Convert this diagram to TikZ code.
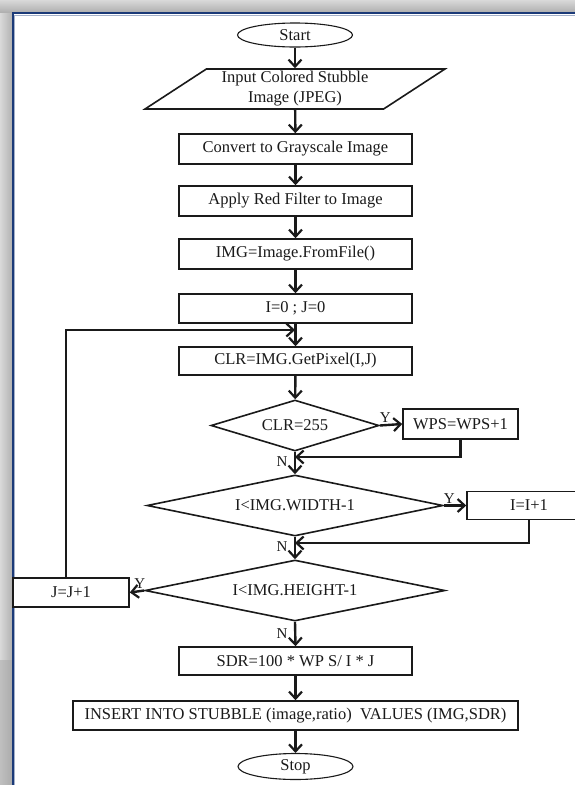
\documentclass[tikz,border=0pt]{standalone}
\usepackage{fontspec}
\setmainfont{Liberation Serif}
\usetikzlibrary{shapes.geometric,arrows.meta}
\definecolor{framebl}{HTML}{1B3A78}
\definecolor{ink}{HTML}{1A1A1A}
\newcommand\myfs{\fontsize{16.5}{20}\selectfont}
\newcommand\mylab{\fontsize{15}{17}\selectfont}
\tikzset{
  box/.style={draw=ink, line width=1.6pt, fill=white, minimum width=233pt, minimum height=29pt, inner sep=0pt, font=\myfs, text=ink},
  term/.style={draw=ink, line width=1.1pt, ellipse, minimum width=115pt, minimum height=24pt, inner sep=0pt, font=\myfs, text=ink},
  dec/.style={draw=ink, line width=1.6pt, diamond, inner sep=0pt, font=\myfs, text=ink},
  arr/.style={draw=ink, line width=2.4pt, -{Straight Barb[length=7pt,width=13pt,line width=2.2pt]}},
  yn/.style={font=\mylab, text=ink, inner sep=1pt}
}
\begin{document}
\begin{tikzpicture}[x=1pt,y=-1pt]
\useasboundingbox (0,0) rectangle (575,785);
% background frame
\fill[white] (0,0) rectangle (575,785);
\fill[left color=gray!30, right color=gray!60] (0,0) rectangle (12,660);
\fill[left color=gray!50, right color=gray!65] (0,660) rectangle (12,785);
\fill[top color=gray!30, bottom color=gray!62] (0,0) rectangle (575,12);
\draw[framebl!40, line width=1pt] (575,15) -- (14.5,15) -- (14.5,785);
\draw[framebl, line width=2pt] (575,13) -- (12.5,13) -- (12.5,785);

% nodes
\node[term] (start) at (295,35) {Start};
\node[draw=ink, line width=1.6pt, trapezium, trapezium stretches=true,
      trapezium left angle=34.6, trapezium right angle=145.4,
      minimum width=300pt, minimum height=40pt, inner sep=0pt,
      align=center, font=\myfs, text=ink] (input) at (295,89) {Input Colored Stubble\\Image (JPEG)};
\node[box, minimum height=30pt] (convert) at (295.5,149) {Convert to Grayscale Image};
\node[box, minimum height=30pt] (red) at (295.5,201) {Apply Red Filter to Image};
\node[box, minimum height=30pt] (img) at (295.5,254) {IMG=Image.FromFile()};
\node[box] (init) at (295.5,308.5) {I=0 ; J=0};
\node[box, minimum height=28pt] (clr) at (295.5,361) {CLR=IMG.GetPixel(I,J)};
\node[dec, aspect=3.29, minimum width=168pt, minimum height=51pt] (d1) at (295,425.5) {CLR=255};
\node[box, minimum width=115pt, minimum height=30pt] (wps) at (460.5,424) {WPS=WPS+1};
\node[dec, aspect=4.85, minimum width=296pt, minimum height=61pt] (d2) at (295,505.5) {I<IMG.WIDTH-1};
\node[box, minimum width=124pt, minimum height=28pt] (inc) at (529,505.5) {I=I+1};
\node[dec, aspect=4.92, minimum width=300pt, minimum height=61pt] (d3) at (295,590.5) {I<IMG.HEIGHT-1};
\node[box, minimum width=116pt, minimum height=29pt] (jinc) at (71,592.5) {J=J+1};
\node[box, minimum height=28pt] (sdr) at (295.5,661) {SDR=100 * WP S/ I * J};
\node[box, minimum width=445pt, minimum height=29pt] (ins) at (295.5,715.5) {INSERT INTO STUBBLE (image,ratio)\ \ VALUES (IMG,SDR)};
\node[term, minimum height=26pt] (stop) at (295.5,766.5) {Stop};

\coordinate (m0) at (295,330);
\coordinate (m1) at (295,457);
\coordinate (m2) at (295,543);

% connectors
\draw[arr] (start) -- (input);
\draw[arr] (input) -- (convert);
\draw[arr] (convert) -- (red);
\draw[arr] (red) -- (img);
\draw[arr] (img) -- (init);
\draw[arr] (init) -- (clr);
\draw[arr] (clr) -- (d1);
\draw[arr] (d1.east) -- (wps.west) node[yn, pos=0.25, above] {Y};
\draw[arr] (wps.south) |- (m1);
\draw[arr] (d1.south) -- (d2.north);
\node[yn] at (282,462) {N};
\draw[arr] (d2.east) -- (inc.west) node[yn, pos=0.25, above] {Y};
\draw[arr] (inc.south) |- (m2);
\draw[arr] (d2.south) -- (d3.north);
\node[yn] at (282,547) {N};
\draw[arr] (d3.west) -- (jinc.east) node[yn, pos=0.3, above] {Y};
\draw[arr] ([xshift=-5pt]jinc.north) |- (m0);
\draw[arr] (d3.south) -- (sdr.north);
\node[yn] at (282,634) {N};
\draw[arr] (sdr) -- (ins);
\draw[arr] (ins) -- (stop);
\end{tikzpicture}
\end{document}
